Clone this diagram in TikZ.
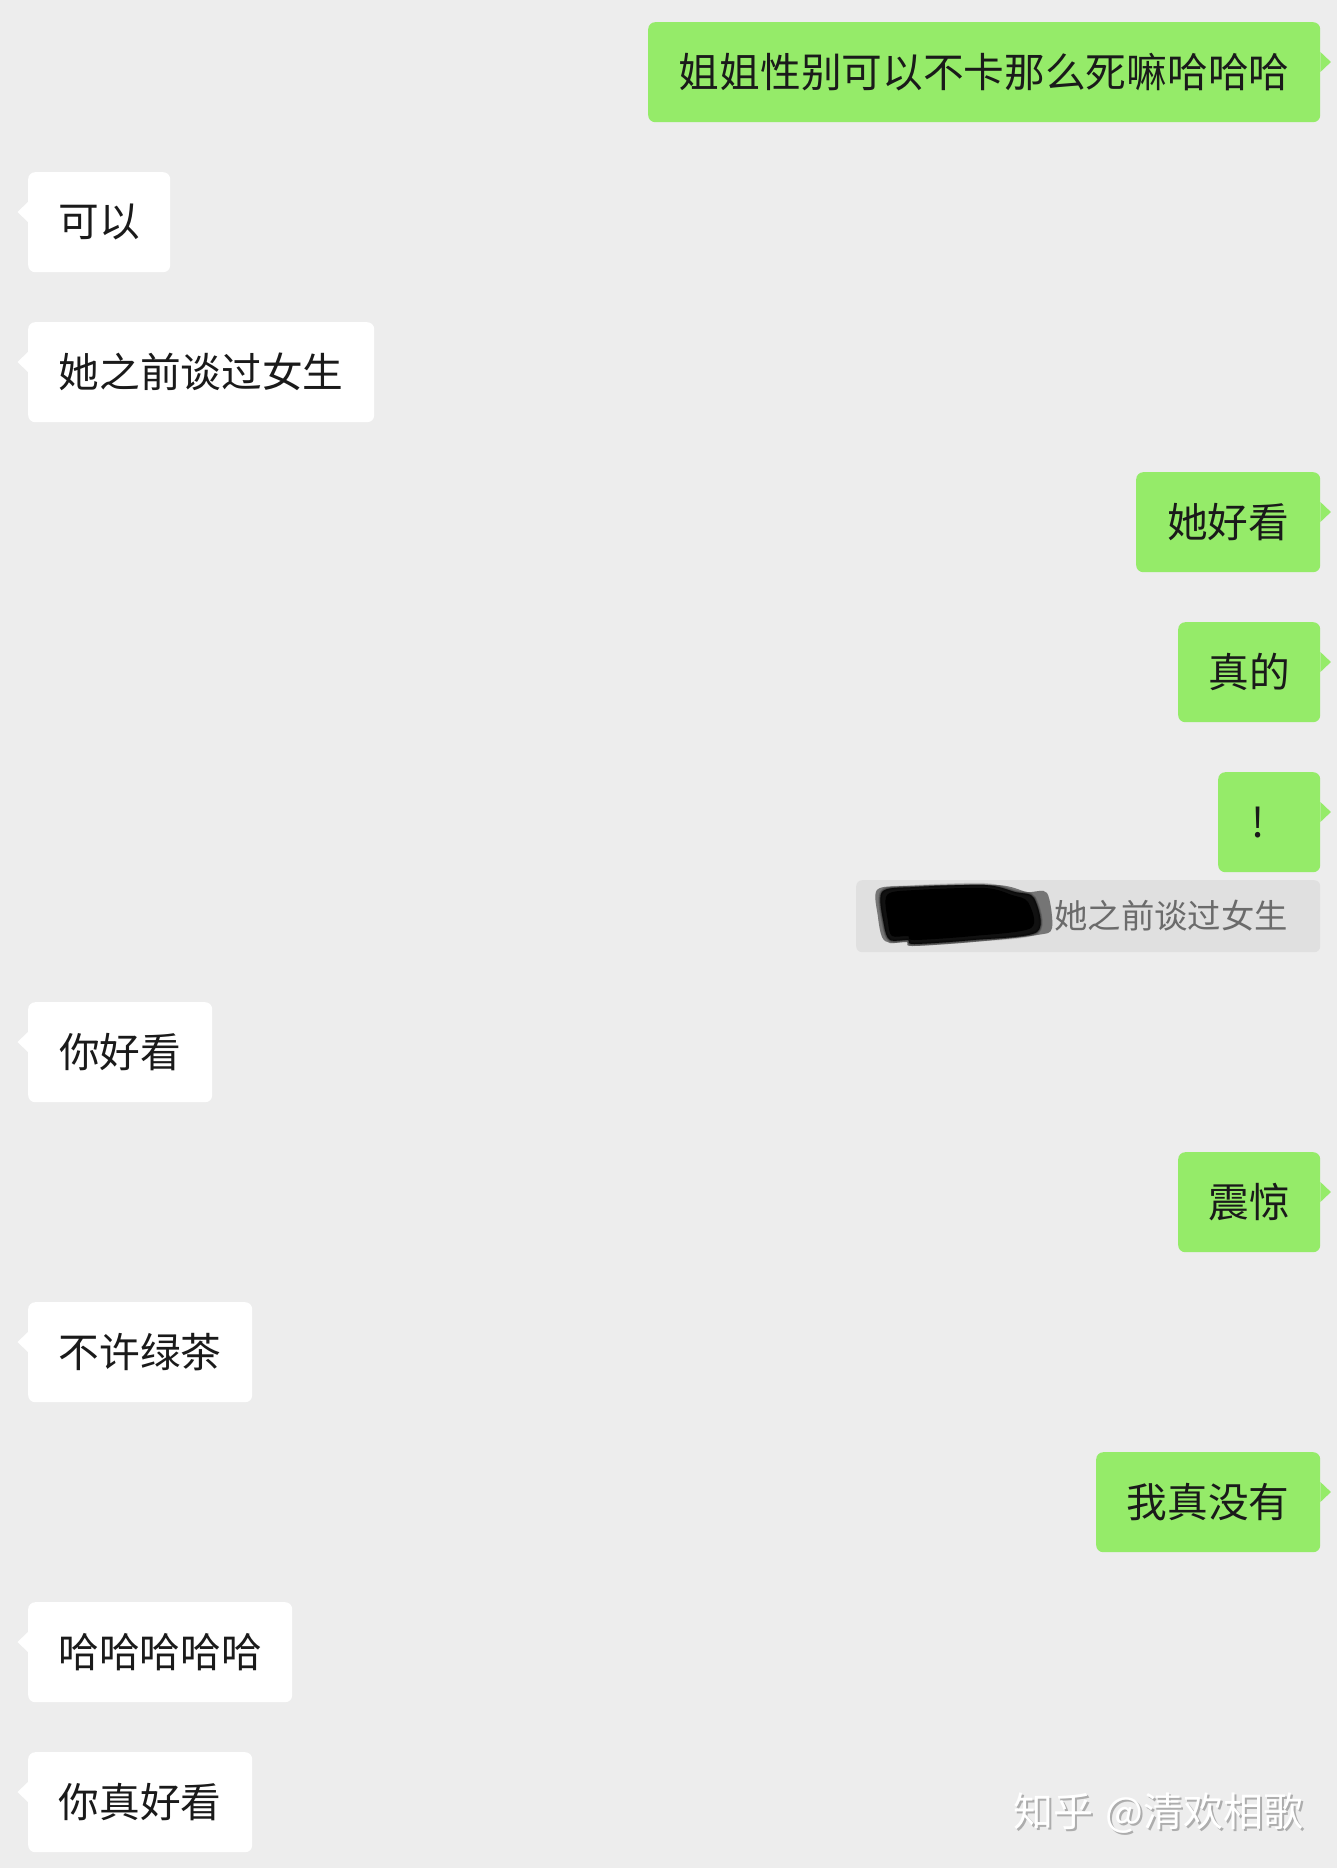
\documentclass[tikz,border=0pt]{standalone}
\usepackage{fontspec}
\setmainfont{Noto Sans CJK SC}
\definecolor{chatbg}{HTML}{EDEDED}
\definecolor{chatgreen}{HTML}{95EB69}
\definecolor{chatink}{HTML}{1A1A1A}
\definecolor{quotebg}{HTML}{E0E0E0}
\definecolor{quoteink}{HTML}{6B6B6B}
\tikzset{
  x=1pt,y=-1pt,
  bubble/.style={rounded corners=7pt,inner sep=0pt,minimum height=100pt,text=chatink,font=\fontsize{40.7pt}{48pt}\selectfont,anchor=north west},
  greenbubble/.style={bubble,fill=chatgreen},
  whitebubble/.style={bubble,fill=white},
  quotebox/.style={rounded corners=6pt,fill=quotebg,inner sep=0pt,minimum width=464pt,minimum height=72pt,anchor=north west},
  quotetext/.style={text=quoteink,inner sep=0pt,font=\fontsize{33.4pt}{40pt}\selectfont,anchor=west},
  markfg/.style={text=white,inner sep=0pt,font=\fontsize{40pt}{46pt}\selectfont,anchor=west},
  markbg/.style={markfg,text=black!32},
}
\newcommand{\chatR}[4]{% name, left, top, text
  \pgfmathsetmacro{\bw}{1320-#2}
  \node[greenbubble,minimum width=\bw pt] (#1) at (#2,#3) {\raisebox{-2pt}{#4}};
  \fill[chatgreen,line join=round] ([yshift=-40pt]#1.north east) ++(0,-10) -- ++(10.5,10) -- ++(-10.5,10) -- cycle;
}
\newcommand{\chatL}[4]{% name, right, top, text
  \pgfmathsetmacro{\bw}{#2-28}
  \node[whitebubble,minimum width=\bw pt] (#1) at (28,#3) {\raisebox{-2pt}{#4}};
  \fill[white,line join=round] ([yshift=-40pt]#1.north west) ++(0,-10) -- ++(-10.5,10) -- ++(10.5,10) -- cycle;
}
\begin{document}
\begin{tikzpicture}
\path[use as bounding box,fill=chatbg] (0,0) rectangle (1337,1868);
\chatR{a}{648}{22}{姐姐性别可以不卡那么死嘛哈哈哈}
\chatL{b}{170}{172}{可以}
\chatL{c}{374}{322}{她之前谈过女生}
\chatR{d}{1136}{472}{她好看}
\chatR{e}{1178}{622}{真的}
\chatR{f}{1218}{772}{\hspace*{-22pt}!}
\node[quotebox] (q) at (856,880) {};
\def\outerblot{(877,890)(907,886)(997,885)(1027,892)(1047,893)(1052,928)(1037,935)(973,942)(912,946)(907,942)(890,943)(882,937)(878,917)}
\def\innerblot{(882,892)(915,887)(985,885)(1015,892)(1034,898)(1037,932)(973,940)(914,944)(908,940)(890,940)(884,925)}
\foreach \w/\o in {4/.14,2.5/.18,1/.25}{
  \fill[black,opacity=\o] plot[smooth cycle,tension=.5] coordinates {\outerblot};
  \draw[black,opacity=\o,line width=\w pt,line join=round] plot[smooth cycle,tension=.5] coordinates {\innerblot};
}
\fill[black,opacity=.85] plot[smooth cycle,tension=.5] coordinates {\innerblot};
\fill[black] plot[smooth cycle,tension=.5] coordinates {(887,895)(915,890)(985,888)(1012,895)(1028,902)(1031,928)(973,936)(914,940)(908,936)(892,936)(888,922)};
\node[quotetext] (qt) at (1054,916) {她之前谈过女生};
\chatL{g}{212}{1002}{你好看}
\chatR{h}{1178}{1152}{震惊}
\chatL{i}{252}{1302}{不许绿茶}
\chatR{j}{1096}{1452}{我真没有}
\chatL{k}{292}{1602}{哈哈哈哈哈}
\chatL{l}{252}{1752}{你真好看}
\node[markbg] (ms) at (1015,1815) {知乎 \hspace{3pt}@清欢相歌};
\node[markfg] (mf) at (1013,1813) {知乎 \hspace{3pt}@清欢相歌};
\end{tikzpicture}
\end{document}
